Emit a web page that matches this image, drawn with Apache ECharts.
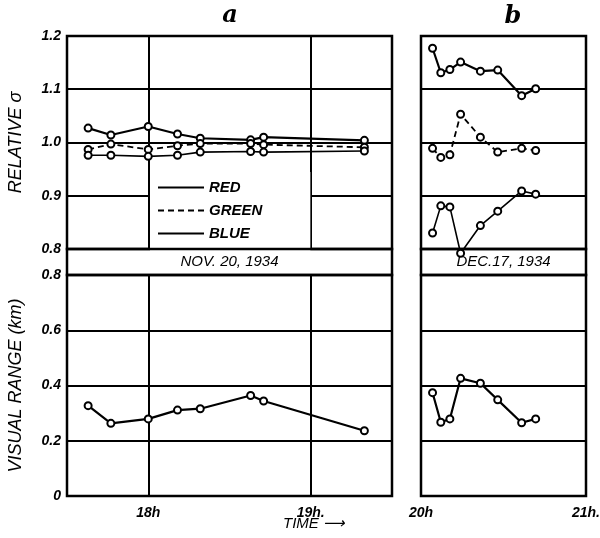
<!DOCTYPE html>
<html>
<head>
<meta charset="utf-8">
<script src="https://cdn.jsdelivr.net/npm/echarts@6/dist/echarts.min.js"></script>
<style>
html,body{margin:0;padding:0;background:#fff;}
#c{width:600px;height:538px;}
</style>
</head>
<body>
<div id="c"></div>
<script>
// ---- data (hours of day) ----
var timesA = [17.63, 17.77, 18.0, 18.18, 18.32, 18.63, 18.71, 19.33];
var redA   = [1.027, 1.014, 1.030, 1.016, 1.008, 1.005, 1.010, 1.004];
var greenA = [0.987, 0.997, 0.987, 0.994, 0.998, 0.998, 0.996, 0.991];
var blueA  = [0.976, 0.976, 0.974, 0.976, 0.982, 0.983, 0.982, 0.984];
var rangeA = [0.327, 0.263, 0.279, 0.311, 0.316, 0.364, 0.344, 0.236];

var timesB = [20.07, 20.12, 20.175, 20.24, 20.36, 20.465, 20.61, 20.695];
var redB   = [1.177, 1.131, 1.137, 1.151, 1.134, 1.136, 1.088, 1.101];
var greenB = [0.989, 0.972, 0.977, 1.053, 1.010, 0.982, 0.989, 0.985];
var blueB  = [0.830, 0.881, 0.879, 0.792, 0.844, 0.871, 0.909, 0.903];
var rangeB = [0.374, 0.267, 0.279, 0.426, 0.408, 0.348, 0.265, 0.279];

var sigmaTicks = ['0.8', '0.9', '1.0', '1.1', '1.2'];
var rangeTicks = ['0', '0.2', '0.4', '0.6', '0.8'];
var hourLabels = {18: '18h', 19: '19h.', 20: '20h', 21: '21h.'};
var hourLinesA = [18, 19];
var seriesNames = ['RED', 'GREEN', 'BLUE'];
var dateA = 'NOV. 20, 1934';
var dateB = 'DEC.17, 1934';

function pairs(xs, ys) { return xs.map(function (x, i) { return [x, ys[i]]; }); }

var FONT = 'Liberation Sans';

var L = 67, WA = 325, LB = 421, WB = 165;
var T1 = 36, H1 = 213, T2 = 275, H2 = 221;

function gridDef(left, top, width, height) {
  return { left: left, top: top, width: width, height: height, show: true,
           outerBoundsMode: 'none', containLabel: false,
           borderColor: '#000', borderWidth: 2.5, backgroundColor: 'transparent' };
}

function xAxisDef(gi, min, max, interval, showLabels) {
  return {
    type: 'value', gridIndex: gi, min: min, max: max, interval: interval,
    axisLine: { show: false }, axisTick: { show: false }, splitLine: { show: false },
    axisLabel: {
      show: showLabels, margin: 10,
      formatter: function (v) { return hourLabels[Math.round(v * 1000) / 1000] || ''; },
      color: '#000', fontFamily: FONT, fontStyle: 'italic', fontWeight: 'bold', fontSize: 14,
      showMinLabel: true, showMaxLabel: true
    }
  };
}

function yAxisDef(gi, min, max, interval, labels, showLabels, name, nameGap) {
  return {
    type: 'value', gridIndex: gi, min: min, max: max, interval: interval,
    axisLine: { show: false }, axisTick: { show: false },
    splitLine: { show: true, lineStyle: { color: '#000', width: 2 } },
    axisLabel: {
      show: showLabels, margin: 6,
      formatter: function (v) {
        var idx = Math.round((v - min) / interval);
        return labels[idx] !== undefined ? labels[idx] : '';
      },
      color: '#000', fontFamily: FONT, fontStyle: 'italic', fontWeight: 'bold', fontSize: 14
    },
    name: name || '', nameLocation: 'middle', nameRotate: 90, nameGap: nameGap || 0,
    nameTextStyle: { color: '#000', fontFamily: FONT, fontStyle: 'italic', fontSize: 18 }
  };
}

function lineSeries(name, xi, data, dashed, width) {
  return {
    type: 'line', name: name, xAxisIndex: xi, yAxisIndex: xi,
    data: data, clip: false,
    symbol: 'emptyCircle', symbolSize: 7,
    itemStyle: { color: '#000', borderWidth: 1.6 },
    lineStyle: { color: '#000', width: width, type: dashed ? [6, 4] : 'solid' },
    emphasis: { disabled: true }, animation: false, z: 5
  };
}

var series = [
  lineSeries(seriesNames[0], 0, pairs(timesA, redA), false, 2.2),
  lineSeries(seriesNames[1], 0, pairs(timesA, greenA), true, 1.8),
  lineSeries(seriesNames[2], 0, pairs(timesA, blueA), false, 1.6),
  lineSeries('range a', 1, pairs(timesA, rangeA), false, 2.2),
  lineSeries(seriesNames[0], 2, pairs(timesB, redB), false, 2.2),
  lineSeries(seriesNames[1], 2, pairs(timesB, greenB), true, 1.8),
  lineSeries(seriesNames[2], 2, pairs(timesB, blueB), false, 1.6),
  lineSeries('range b', 3, pairs(timesB, rangeB), false, 2.2)
];
// vertical hour lines in panel a
[0, 3].forEach(function (si) {
  series[si].markLine = {
    silent: true, symbol: 'none', animation: false, label: { show: false },
    lineStyle: { color: '#000', width: 2, type: 'solid' },
    data: hourLinesA.map(function (h) { return { xAxis: h }; })
  };
});

var option = {
  backgroundColor: '#fff',
  animation: false,
  grid: [gridDef(L, T1, WA, H1), gridDef(L, T2, WA, H2), gridDef(LB, T1, WB, H1), gridDef(LB, T2, WB, H2)],
  xAxis: [
    xAxisDef(0, 17.5, 19.5, 0.5, false),
    xAxisDef(1, 17.5, 19.5, 0.5, true),
    xAxisDef(2, 20, 21, 1, false),
    xAxisDef(3, 20, 21, 1, true)
  ],
  yAxis: [
    yAxisDef(0, 0.8, 1.2, 0.1, sigmaTicks, true, 'RELATIVE σ', 42),
    yAxisDef(1, 0, 0.8, 0.2, rangeTicks, true, 'VISUAL RANGE (km)', 42),
    yAxisDef(2, 0.8, 1.2, 0.1, sigmaTicks, false),
    yAxisDef(3, 0, 0.8, 0.2, rangeTicks, false)
  ],
  legend: {
    data: seriesNames, orient: 'vertical', left: 150, top: 172,
    padding: [8, 48, 10, 7], itemGap: 8, itemWidth: 46, itemHeight: 12,
    backgroundColor: '#fff', selectedMode: false, z: 10,
    itemStyle: { opacity: 0 },
    textStyle: { color: '#000', fontFamily: FONT, fontStyle: 'italic', fontWeight: 'bold', fontSize: 15 }
  },
  graphic: [
    { type: 'rect', shape: { x: L, y: T1 + H1, width: WA, height: T2 - T1 - H1 },
      style: { fill: 'none', stroke: '#000', lineWidth: 2.5 }, z: 20 },
    { type: 'rect', shape: { x: LB, y: T1 + H1, width: WB, height: T2 - T1 - H1 },
      style: { fill: 'none', stroke: '#000', lineWidth: 2.5 }, z: 20 },
    { type: 'text', x: L + WA / 2, y: T1 + H1 + 13, z: 20,
      style: { text: dateA, textAlign: 'center', textVerticalAlign: 'middle', fill: '#000',
               font: 'italic 15px "Liberation Sans"' } },
    { type: 'text', x: LB + WB / 2, y: T1 + H1 + 13, z: 20,
      style: { text: dateB, textAlign: 'center', textVerticalAlign: 'middle', fill: '#000',
               font: 'italic 15px "Liberation Sans"' } },
    { type: 'text', x: 230, y: 16, z: 20,
      style: { text: 'a', textAlign: 'center', textVerticalAlign: 'middle', fill: '#000',
               font: 'italic bold 24px "DejaVu Serif"' } },
    { type: 'text', x: 513, y: 17, z: 20,
      style: { text: 'b', textAlign: 'center', textVerticalAlign: 'middle', fill: '#000',
               font: 'italic bold 24px "DejaVu Serif"' } },
    { type: 'text', x: 283, y: 524, z: 20,
      style: { text: 'TIME ⟶', textAlign: 'left', textVerticalAlign: 'middle', fill: '#000',
               font: 'italic 15px "Liberation Sans"' } }
  ],
  series: series
};

var chart = echarts.init(document.getElementById('c'), null, { renderer: 'canvas' });
chart.setOption(option);
</script>
</body>
</html>
